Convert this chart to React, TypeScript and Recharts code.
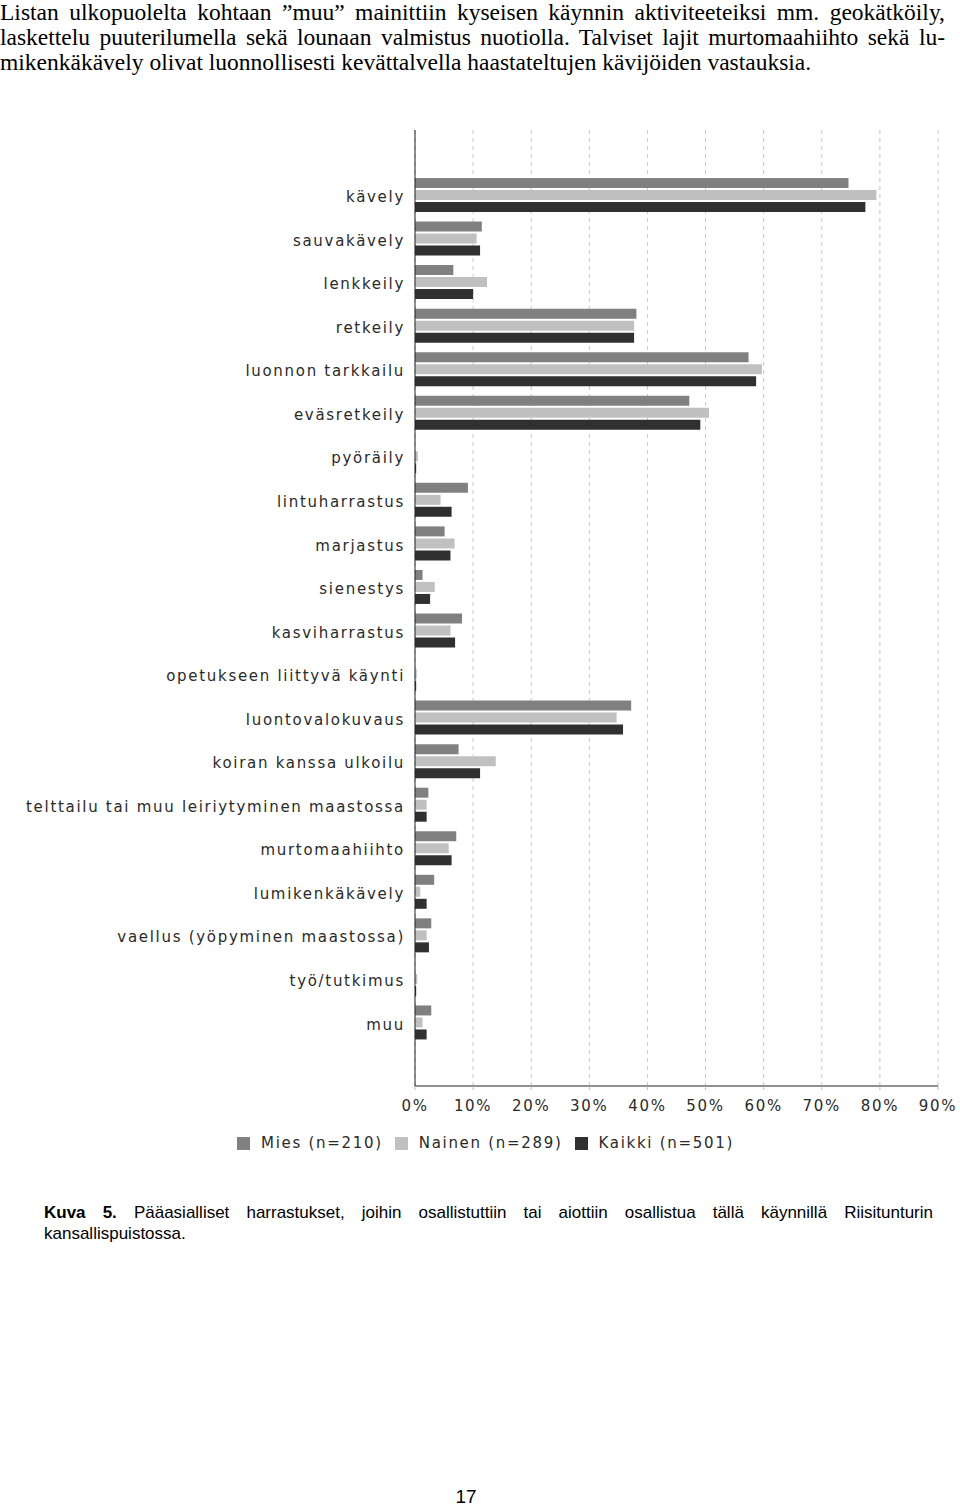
import { BarChart, Bar, XAxis, YAxis, CartesianGrid, Legend } from 'recharts';

// Activities (y-axis categories)
const categories = [
  'kävely',
  'sauvakävely',
  'lenkkeily',
  'retkeily',
  'luonnon tarkkailu',
  'eväsretkeily',
  'pyöräily',
  'lintuharrastus',
  'marjastus',
  'sienestys',
  'kasviharrastus',
  'opetukseen liittyvä käynti',
  'luontovalokuvaus',
  'koiran kanssa ulkoilu',
  'telttailu tai muu leiriytyminen maastossa',
  'murtomaahiihto',
  'lumikenkäkävely',
  'vaellus (yöpyminen maastossa)',
  'työ/tutkimus',
  'muu',
];

// Shares in percent
const mies = [74.6, 11.5, 6.6, 38.1, 57.4, 47.2, 0, 9.1, 5.1, 1.3, 8.1, 0, 37.2, 7.5, 2.3, 7.1, 3.3, 2.8, 0, 2.8];
const nainen = [79.4, 10.6, 12.4, 37.7, 59.7, 50.6, 0.5, 4.4, 6.8, 3.4, 6.1, 0.3, 34.7, 13.9, 2.0, 5.8, 0.9, 2.0, 0.4, 1.3];
const kaikki = [77.5, 11.2, 10.0, 37.7, 58.7, 49.1, 0.2, 6.3, 6.1, 2.6, 6.9, 0.2, 35.8, 11.2, 2.0, 6.3, 2.0, 2.4, 0.2, 2.0];

const xTicks = [0, 10, 20, 30, 40, 50, 60, 70, 80, 90];

const series = [
  { key: 'mies', name: 'Mies (n=210)', color: '#808080' },
  { key: 'nainen', name: 'Nainen (n=289)', color: '#c0c0c0' },
  { key: 'kaikki', name: 'Kaikki (n=501)', color: '#303030' },
];

const data = categories.map((name, i) => ({
  name,
  mies: mies[i],
  nainen: nainen[i],
  kaikki: kaikki[i],
}));

const tickFont = {
  fontFamily: '"DejaVu Sans", Verdana, sans-serif',
  fontSize: 15,
  letterSpacing: 1.7,
  fill: '#2a2a2a',
};

const ChartLegend = () => (
  <div style={{ display: 'flex', alignItems: 'center', height: 24, fontFamily: tickFont.fontFamily, fontSize: 15, letterSpacing: 1.7, color: '#2a2a2a' }}>
    {series.map(s => (
      <div key={s.key} style={{ display: 'flex', alignItems: 'center', marginRight: 12 }}>
        <span style={{ display: 'inline-block', width: 13, height: 13, background: s.color, marginRight: 11 }} />
        <span>{s.name}</span>
      </div>
    ))}
  </div>
);

const App = () => {
  return (
    <div style={{ position: 'absolute', left: 0, top: 0, width: 960, height: 1505, background: '#fff' }}>
      <div style={{ position: 'absolute', left: 0, top: 0, width: 945, fontFamily: '"Liberation Serif", "Times New Roman", serif', fontSize: 23.5, lineHeight: '25px', color: '#000' }}>
        <div style={{ textAlign: 'justify', textAlignLast: 'justify' }}>
          Listan ulkopuolelta kohtaan ”muu” mainittiin kyseisen käynnin aktiviteeteiksi mm. geokätköily,
        </div>
        <div style={{ textAlign: 'justify', textAlignLast: 'justify' }}>
          laskettelu puuterilumella sekä lounaan valmistus nuotiolla. Talviset lajit murtomaahiihto sekä lu-
        </div>
        <div>mikenkäkävely olivat luonnollisesti kevättalvella haastateltujen kävijöiden vastauksia.</div>
      </div>

      <div style={{ position: 'absolute', left: 0, top: 120 }}>
        <BarChart
          width={960}
          height={1050}
          data={data}
          layout="vertical"
          margin={{ top: 10, right: 22, bottom: 30, left: 0 }}
          barSize={10}
          barGap={2}
        >
          <CartesianGrid horizontal={false} strokeDasharray="4 4" stroke="#c8c8c8" />
          <XAxis
            type="number"
            domain={[0, 90]}
            ticks={xTicks}
            tickFormatter={v => `${v}%`}
            height={30}
            tick={tickFont}
            tickSize={4}
            tickMargin={10}
            tickLine={{ stroke: '#bbb' }}
            axisLine={{ stroke: '#222' }}
            interval={0}
          />
          <YAxis
            type="category"
            dataKey="name"
            width={415}
            padding={{ top: 43, bottom: 42 }}
            tick={{ ...tickFont, dy: 2 }}
            tickSize={0}
            tickMargin={10}
            tickLine={false}
            axisLine={{ stroke: '#222' }}
            interval={0}
          />
          <Legend
            verticalAlign="bottom"
            content={<ChartLegend />}
            wrapperStyle={{ left: 237, bottom: 15, width: 600 }}
          />
          {series.map(s => (
            <Bar key={s.key} dataKey={s.key} name={s.name} fill={s.color} isAnimationActive={false} />
          ))}
        </BarChart>
      </div>

      <div style={{ position: 'absolute', left: 44, top: 1202, width: 889, fontFamily: '"Liberation Sans", Arial, sans-serif', fontSize: 17, lineHeight: '21px', color: '#000' }}>
        <div style={{ textAlign: 'justify', textAlignLast: 'justify' }}>
          <b>Kuva 5.</b> Pääasialliset harrastukset, joihin osallistuttiin tai aiottiin osallistua tällä käynnillä Riisitunturin
        </div>
        <div>kansallispuistossa.</div>
      </div>

      <div style={{ position: 'absolute', left: 0, width: 932, top: 1486, textAlign: 'center', fontFamily: '"Liberation Sans", Arial, sans-serif', fontSize: 19, color: '#000' }}>
        17
      </div>
    </div>
  );
};

export default App;
